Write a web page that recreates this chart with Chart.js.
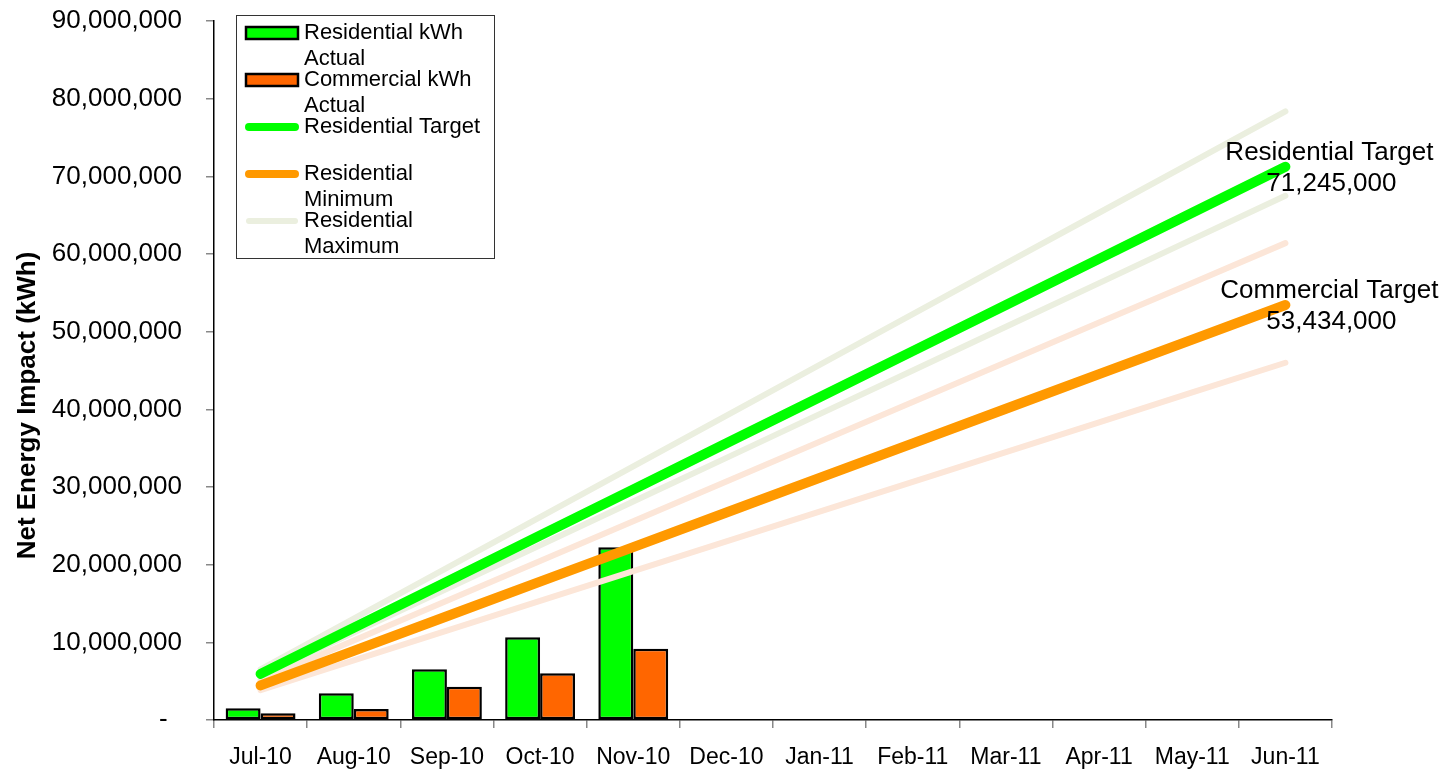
<!DOCTYPE html>
<html>
<head>
<meta charset="utf-8">
<script src="https://cdn.jsdelivr.net/npm/chart.js@4/dist/chart.umd.min.js"></script>
<style>
  html, body { margin: 0; padding: 0; background: #fff; }
  #wrap { position: relative; width: 1447px; height: 773px; }
</style>
</head>
<body>
<div id="wrap"><canvas id="c" width="1447" height="773"></canvas></div>
<script>
// ---- data ----
const months = ['Jul-10','Aug-10','Sep-10','Oct-10','Nov-10','Dec-10','Jan-11','Feb-11','Mar-11','Apr-11','May-11','Jun-11'];
const residentialActual = [1500000, 3440000, 6530000, 10650000, 22230000, null, null, null, null, null, null, null];
const commercialActual  = [880000, 1420000, 4290000, 6010000, 9180000, null, null, null, null, null, null, null];
const residentialTarget = [5937083, 11874167, 17811250, 23748333, 29685417, 35622500, 41559583, 47496667, 53433750, 59370833, 65307917, 71245000];
const residentialMax    = [6530000, 13060000, 19590000, 26120000, 32660000, 39190000, 45720000, 52250000, 58780000, 65310000, 71840000, 78370000];
const residentialMin    = [5630000, 11250000, 16880000, 22500000, 28130000, 33750000, 39380000, 45000000, 50630000, 56250000, 61880000, 67500000];
const commercialTarget  = [4452833, 8905667, 13358500, 17811333, 22264167, 26717000, 31169833, 35622667, 40075500, 44528333, 48981167, 53434000];
const commercialMax     = [5120000, 10230000, 15350000, 20470000, 25580000, 30700000, 35820000, 40930000, 46050000, 51170000, 56280000, 61400000];
const commercialMin     = [3830000, 7670000, 11500000, 15330000, 19170000, 23000000, 26830000, 30670000, 34500000, 38330000, 42170000, 46000000];
const yTicks = [0, 10000000, 20000000, 30000000, 40000000, 50000000, 60000000, 70000000, 80000000, 90000000];
const legendLabels = ['Residential kWh Actual', 'Commercial kWh Actual', 'Residential Target', 'Residential Minimum', 'Residential Maximum'];
const targetLabels = ['Residential Target', 'Commercial Target'];
const yTitle = 'Net Energy Impact (kWh)';

// ---- styles ----
const FONT = '"Liberation Sans", Arial, Helvetica, sans-serif';
const GREEN = '#00FF00', ORANGE_BAR = '#FF6600', ORANGE_LINE = '#FF9900';
const LIGHT_GREEN = '#EBEFDF', PEACH = '#FCE6D8';
const fmt = v => v === 0 ? '-  ' : Number(v).toLocaleString('en-US');

// legend entries: [label, dataset index, kind]
const legendMap = [
  [legendLabels[0], 0, 'bar'],
  [legendLabels[1], 1, 'bar'],
  [legendLabels[2], 6, 'line'],
  [legendLabels[3], 7, 'line'],
  [legendLabels[4], 2, 'line']
];

const lineDs = (label, data, color, width, order) => ({
  type: 'line', label, data, borderColor: color, backgroundColor: color,
  borderWidth: width, pointRadius: 0, pointHoverRadius: 0, tension: 0,
  borderCapStyle: 'round', borderJoinStyle: 'round', fill: false, order
});

const customPlugin = {
  id: 'custom',
  afterDatasetsDraw(chart) {
    const ctx = chart.ctx;
    // target end labels
    [[6, targetLabels[0]], [7, targetLabels[1]]].forEach(([di, name]) => {
      const meta = chart.getDatasetMeta(di);
      const last = meta.data[meta.data.length - 1];
      const val = chart.data.datasets[di].data[meta.data.length - 1];
      ctx.save();
      ctx.fillStyle = '#000';
      ctx.font = '26px ' + FONT;
      ctx.textAlign = 'center';
      ctx.textBaseline = 'middle';
      ctx.fillText(name, last.x + 44, last.y - 14);
      ctx.fillText(fmt(val), last.x + 46, last.y + 17);
      ctx.restore();
    });
  },
  afterDraw(chart) {
    const ctx = chart.ctx;
    const ca = chart.chartArea;
    // y axis title
    ctx.save();
    ctx.translate(ca.left - 186, (ca.top + ca.bottom) / 2 + 35);
    ctx.rotate(-Math.PI / 2);
    ctx.font = 'bold 26px ' + FONT;
    ctx.fillStyle = '#000';
    ctx.textAlign = 'center';
    ctx.textBaseline = 'middle';
    ctx.fillText(yTitle, 0, 0);
    ctx.restore();

    // legend box
    const bx = ca.left + 22, by = ca.top - 6, bw = 258, bh = 243;
    ctx.save();
    ctx.fillStyle = '#fff';
    ctx.fillRect(bx, by, bw, bh);
    ctx.strokeStyle = '#333';
    ctx.lineWidth = 1;
    ctx.strokeRect(bx + 0.5, by + 0.5, bw, bh);
    ctx.font = '22px ' + FONT;
    ctx.textBaseline = 'middle';
    ctx.textAlign = 'left';
    legendMap.forEach(([label, di, kind], i) => {
      const ds = chart.data.datasets[di];
      const cy = by + 18 + 47 * i;
      const sx = bx + 10, sw = 52;
      if (kind === 'bar') {
        ctx.fillStyle = ds.backgroundColor;
        ctx.fillRect(sx, cy - 6, sw, 12);
        ctx.strokeStyle = '#000';
        ctx.lineWidth = 2.5;
        ctx.strokeRect(sx, cy - 6, sw, 12);
      } else {
        ctx.strokeStyle = ds.borderColor;
        ctx.lineWidth = di === 2 ? 6 : 8;
        ctx.lineCap = 'round';
        ctx.beginPath();
        ctx.moveTo(sx + 3, cy);
        ctx.lineTo(sx + sw - 3, cy);
        ctx.stroke();
      }
      // wrap text
      const maxW = 186;
      const words = label.split(' ');
      const lines = [];
      let cur = '';
      words.forEach(w => {
        const t = cur ? cur + ' ' + w : w;
        if (ctx.measureText(t).width > maxW && cur) { lines.push(cur); cur = w; }
        else cur = t;
      });
      if (cur) lines.push(cur);
      ctx.fillStyle = '#000';
      lines.forEach((ln, k) => ctx.fillText(ln, sx + sw + 6, cy + 26 * k));
    });
    ctx.restore();
  }
};

new Chart(document.getElementById('c'), {
  type: 'bar',
  data: {
    labels: months,
    datasets: [
      { type: 'bar', label: 'Residential kWh Actual', data: residentialActual, backgroundColor: GREEN, borderColor: '#000', borderWidth: 2.5, borderSkipped: false, categoryPercentage: 0.75, barPercentage: 1.0, order: 10 },
      { type: 'bar', label: 'Commercial kWh Actual', data: commercialActual, backgroundColor: ORANGE_BAR, borderColor: '#000', borderWidth: 2.5, borderSkipped: false, categoryPercentage: 0.75, barPercentage: 1.0, order: 10 },
      lineDs('Residential Maximum', residentialMax, LIGHT_GREEN, 6, 5),
      lineDs('Residential Minimum', residentialMin, LIGHT_GREEN, 6, 5),
      lineDs('Commercial Maximum', commercialMax, PEACH, 6, 5),
      lineDs('Commercial Minimum', commercialMin, PEACH, 6, 5),
      lineDs('Residential Target', residentialTarget, GREEN, 10, 1),
      lineDs('Commercial Target', commercialTarget, ORANGE_LINE, 10, 1)
    ]
  },
  options: {
    responsive: false,
    animation: false,
    events: [],
    layout: { padding: { top: 21, right: 115, bottom: 0, left: 0 } },
    plugins: { legend: { display: false }, tooltip: { enabled: false } },
    scales: {
      x: {
        offset: true,
        grid: { offset: true, drawOnChartArea: false, drawTicks: true, tickLength: 8, color: '#888', lineWidth: 1.5 },
        border: { color: '#000', width: 1.5 },
        ticks: { color: '#000', font: { family: FONT, size: 23 }, padding: 16, maxRotation: 0, autoSkip: false },
        afterFit: s => { s.height = 53; s.paddingLeft = 0; s.paddingRight = 0; }
      },
      y: {
        min: 0, max: 90000000,
        afterBuildTicks: s => { s.ticks = yTicks.map(v => ({ value: v })); },
        grid: { drawOnChartArea: false, drawTicks: true, tickLength: 8, color: '#888', lineWidth: 1.5 },
        border: { color: '#000', width: 1.5 },
        ticks: { color: '#000', font: { family: FONT, size: 26 }, padding: 24, callback: v => fmt(v) },
        afterFit: s => { s.width = 214; s.paddingTop = 0; s.paddingBottom = 0; }
      }
    }
  },
  plugins: [customPlugin]
});
</script>
</body>
</html>
